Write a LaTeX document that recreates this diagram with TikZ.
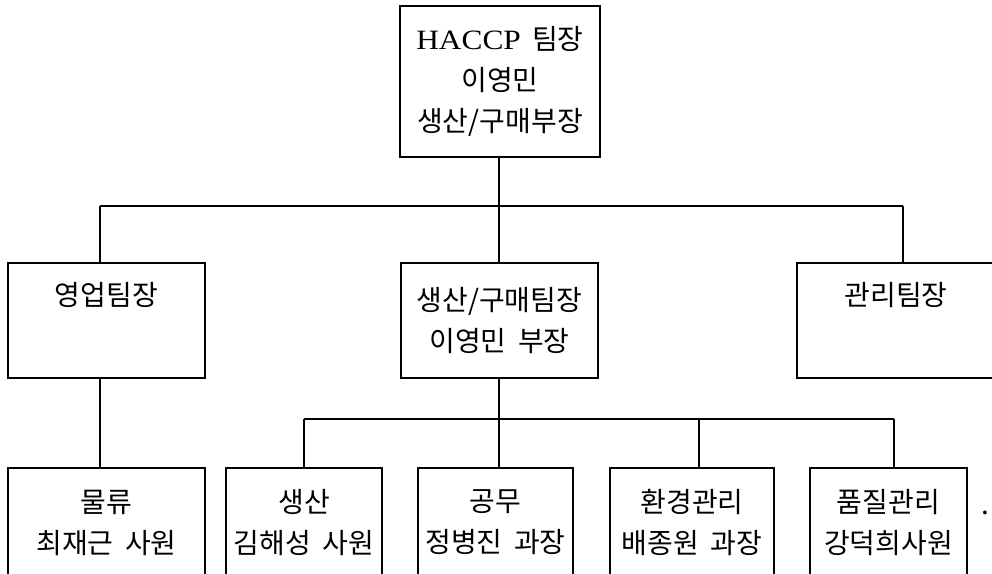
\documentclass[tikz,border=0pt]{standalone}
\usepackage{fontspec}
\setmainfont{Noto Sans CJK KR}[WordSpace=1.8]
\newfontfamily\latinserif{Liberation Serif}
\begin{document}
\begin{tikzpicture}[x=1pt,y=-1pt,
  box/.style={draw, line width=1.8pt, inner sep=0pt, align=center,
    minimum width=197pt, minimum height=115pt,
    font=\fontsize{28}{41}\selectfont},
  link/.style={line width=1.8pt},
  dotmark/.style={inner sep=0pt, font=\fontsize{28}{30}\selectfont}]
\useasboundingbox (0,0) rectangle (992,573);
\clip (0,0) rectangle (992,573);

% top: team leader
\node[box, minimum width=200pt, minimum height=151pt] (head) at (500,81.5)
  {{\latinserif\scalebox{1.12}[1]{HACCP}} 팀장\\이영민\\생산/구매부장};

% second row
\node[box] (sales) at (106.5,320.5) {영업팀장\\\strut};
\node[box] (prod)  at (499.5,320.5) {생산/구매팀장\\이영민 부장};
\node[box, minimum width=198pt] (admin) at (896,320.5) {관리팀장\\\strut};

% third row
\node[box, minimum height=109pt] (logi) at (106.5,522.5) {물류\\최재근 사원};
\node[box, minimum width=156pt, minimum height=109pt] (mfg) at (304,522.5) {생산\\김해성 사원};
\node[box, minimum width=155pt, minimum height=109pt] (work) at (495.5,522.5) {공무\\정병진 과장};
\node[box, minimum width=164pt, minimum height=109pt] (env) at (692,522.5) {환경관리\\배종원 과장};
\node[box, minimum width=157pt, minimum height=109pt] (qual) at (888.5,522.5) {품질관리\\강덕희사원};

\node[dotmark, anchor=base] (stop) at (985,514) {.};

% bus lines
\coordinate (busAL) at (100,206);
\coordinate (busAM) at (499,206);
\coordinate (busAR) at (903,206);
\coordinate (busBL) at (304,419);
\coordinate (busBM) at (499,419);
\coordinate (busBA) at (699,419);
\coordinate (busBR) at (894,419);

\draw[link] (busAL) -- (busAR);
\draw[link] (head.south -| busAM) -- (busAM);
\draw[link] (busAL) -- (sales.north -| busAL);
\draw[link] (busAM) -- (prod.north -| busAM);
\draw[link] (busAR) -- (admin.north -| busAR);

\draw[link] (sales.south -| busAL) -- (logi.north -| busAL);

\draw[link] (busBL) -- (busBR);
\draw[link] (prod.south -| busBM) -- (busBM);
\draw[link] (busBL) -- (mfg.north -| busBL);
\draw[link] (busBM) -- (work.north -| busBM);
\draw[link] (busBA) -- (env.north -| busBA);
\draw[link] (busBR) -- (qual.north -| busBR);
\end{tikzpicture}
\end{document}
